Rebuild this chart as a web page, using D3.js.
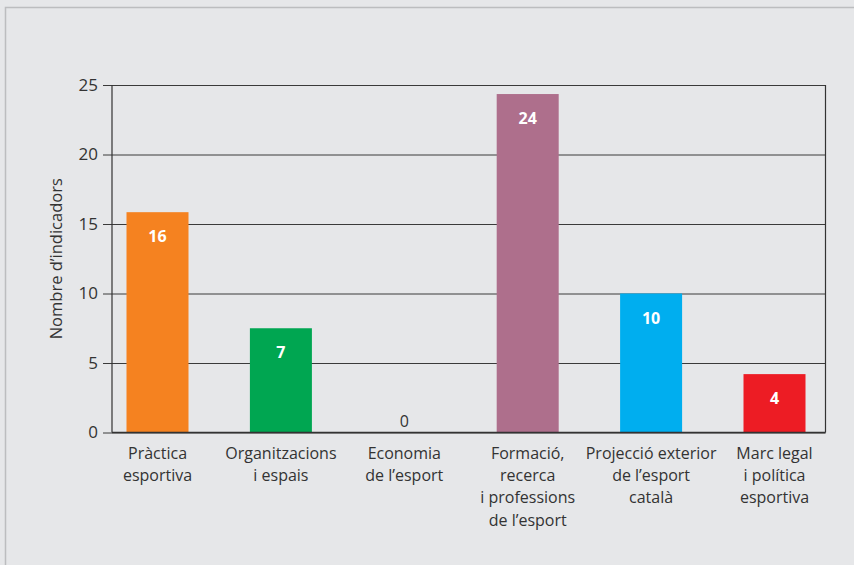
<!DOCTYPE html>
<html>
<head>
<meta charset="utf-8">
<script src="https://cdn.jsdelivr.net/npm/d3@7"></script>
<style>
  html, body { margin: 0; padding: 0; background: #e6e7e9; }
  svg { display: block; }
  text { font-family: "Open Sans", sans-serif; }
</style>
</head>
<body>
<svg id="chart" width="854" height="565"></svg>
<script>
const categories = [
  ["Pràctica", "esportiva"],
  ["Organitzacions", "i espais"],
  ["Economia", "de l’esport"],
  ["Formació,", "recerca", "i professions", "de l’esport"],
  ["Projecció exterior", "de l’esport", "català"],
  ["Marc legal", "i política", "esportiva"]
];
const values = [15.85, 7.5, 0, 24.35, 10, 4.2];
const valueLabels = ["16", "7", "0", "24", "10", "4"];
const colors = ["#f58220", "#00a651", "#999999", "#ae6f8c", "#00aeef", "#ed1c24"];
const yTicks = [0, 5, 10, 15, 20, 25];
const yTitle = "Nombre d’indicadors";

const svg = d3.select("#chart");
const W = 854, H = 565;

// outer frame (top and left only)
svg.append("rect").attr("x", 0).attr("y", 0).attr("width", W).attr("height", H).attr("fill", "#e6e7e9");
svg.append("path").attr("d", "M5.5,565V7.5H854").attr("fill", "none").attr("stroke", "#bcbdbf").attr("stroke-width", 1.5);

const plot = { left: 112, right: 825.5, top: 85, bottom: 432.5 };

const ids = categories.map((c, i) => i);
const x = d3.scaleBand().domain(ids).range([95.8, 836.2]).padding(0);
const y = d3.scaleLinear().domain([0, 25]).range([plot.bottom, plot.top]);
const barW = 62;

const g = svg.append("g");

// gridlines & ticks
const yAxis = d3.axisLeft(y).tickValues(yTicks).tickSize(-(plot.right - plot.left)).tickPadding(14);
const ya = g.append("g").attr("transform", `translate(${plot.left},0)`).call(yAxis);
ya.select(".domain").remove();
ya.selectAll(".tick line").attr("stroke", "#3a3a3a").attr("stroke-width", 1).attr("x1", -9);
ya.selectAll(".tick text").attr("fill", "#333").style("font-size", "17px").attr("x", -14);

// frame lines
g.append("line").attr("x1", plot.left).attr("x2", plot.left).attr("y1", plot.top).attr("y2", plot.bottom).attr("stroke", "#333").attr("stroke-width", 1.2);
g.append("line").attr("x1", plot.right).attr("x2", plot.right).attr("y1", plot.top).attr("y2", plot.bottom).attr("stroke", "#333").attr("stroke-width", 1.2);

// bars
g.selectAll("rect.bar").data(values).enter().append("rect")
  .attr("class", "bar")
  .attr("x", (d, i) => x(i) + x.bandwidth() / 2 - barW / 2)
  .attr("width", barW)
  .attr("y", d => y(d))
  .attr("height", d => plot.bottom - y(d))
  .attr("fill", (d, i) => colors[i]);

// x axis baseline
g.append("line").attr("x1", plot.left).attr("x2", plot.right).attr("y1", plot.bottom).attr("y2", plot.bottom).attr("stroke", "#333").attr("stroke-width", 1.5);

// value labels
g.selectAll("text.val").data(values).enter().append("text")
  .attr("class", "val")
  .attr("x", (d, i) => x(i) + x.bandwidth() / 2)
  .attr("y", d => d > 0 ? y(d) + 30 : plot.bottom - 6)
  .attr("text-anchor", "middle")
  .attr("fill", d => d > 0 ? "#ffffff" : "#333")
  .style("font-weight", d => d > 0 ? "700" : "400")
  .style("font-size", "16px")
  .text((d, i) => valueLabels[i]);

// category labels
const cat = g.selectAll("text.cat").data(categories).enter().append("text")
  .attr("class", "cat")
  .attr("text-anchor", "middle")
  .attr("fill", "#333")
  .style("font-size", "16px")
  .attr("transform", (d, i) => `translate(${x(i) + x.bandwidth() / 2},${plot.bottom + 26})`);
cat.selectAll("tspan").data(d => d).enter().append("tspan")
  .attr("x", 0)
  .attr("dy", (d, j) => j === 0 ? 0 : 22.4)
  .text(d => d);

// y title
g.append("text")
  .attr("transform", `translate(62,${(plot.top + plot.bottom) / 2}) rotate(-90)`)
  .attr("text-anchor", "middle")
  .attr("fill", "#333")
  .style("font-size", "16.5px")
  .text(yTitle);
</script>
</body>
</html>
